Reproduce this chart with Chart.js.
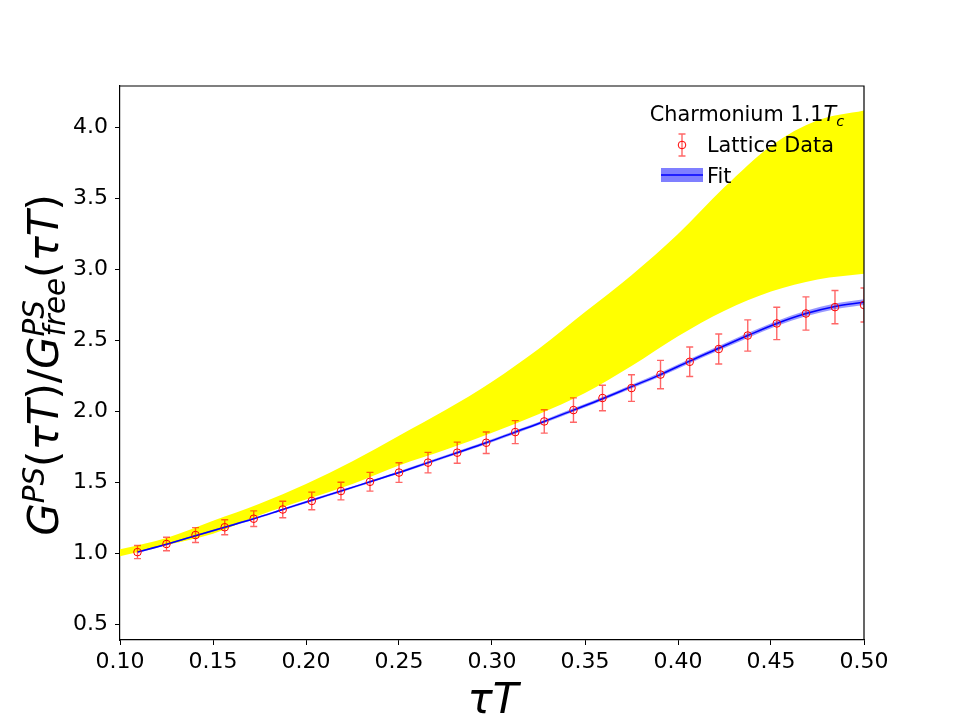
<!DOCTYPE html>
<html>
<head>
<meta charset="utf-8">
<script src="https://cdn.jsdelivr.net/npm/chart.js@4/dist/chart.umd.min.js"></script>
<style>
  html, body { margin: 0; padding: 0; background: #fff; }
  #wrap { width: 960px; height: 720px; }
</style>
</head>
<body>
<div id="wrap"><canvas id="corr" width="960" height="720"></canvas></div>
<script>
// tau*T values of the lattice points (N_tau = 64)
const tauT = [0.1094, 0.1250, 0.1406, 0.1563, 0.1719, 0.1875, 0.2031, 0.2188, 0.2344,
  0.2500, 0.2656, 0.2813, 0.2969, 0.3125, 0.3281, 0.3438, 0.3594, 0.3750, 0.3906,
  0.4063, 0.4219, 0.4375, 0.4531, 0.4688, 0.4844, 0.5000];
const latticeData = [1.01, 1.067, 1.13, 1.185, 1.245, 1.31, 1.37, 1.44, 1.505,
  1.57, 1.64, 1.71, 1.78, 1.855, 1.93, 2.01, 2.095, 2.165, 2.26,
  2.35, 2.44, 2.535, 2.62, 2.69, 2.735, 2.75];
const latticeErr = [0.046, 0.048, 0.052, 0.053, 0.055, 0.058, 0.062, 0.062, 0.066,
  0.069, 0.072, 0.074, 0.076, 0.081, 0.082, 0.086, 0.090, 0.094, 0.100,
  0.104, 0.106, 0.110, 0.114, 0.117, 0.117, 0.120];
const fitVal = [1.01, 1.065, 1.125, 1.185, 1.245, 1.31, 1.375, 1.44, 1.505,
  1.57, 1.64, 1.71, 1.78, 1.855, 1.93, 2.01, 2.09, 2.175, 2.26,
  2.355, 2.445, 2.535, 2.62, 2.69, 2.74, 2.77];
const fitErr = [0.006, 0.006, 0.006, 0.007, 0.007, 0.007, 0.008, 0.008, 0.008,
  0.009, 0.009, 0.010, 0.010, 0.011, 0.011, 0.012, 0.012, 0.013, 0.014,
  0.015, 0.016, 0.017, 0.018, 0.019, 0.020, 0.020];

// yellow band (upper / lower edge)
const bandTau = [0.100, 0.125, 0.150, 0.175, 0.200, 0.225, 0.250, 0.275, 0.300,
  0.325, 0.350, 0.375, 0.400, 0.425, 0.450, 0.475, 0.500];
const bandHigh = [1.03, 1.11, 1.23, 1.35, 1.49, 1.65, 1.83, 2.01, 2.21,
  2.44, 2.70, 2.96, 3.25, 3.58, 3.87, 4.05, 4.12];
const bandLow = [0.98, 1.06, 1.14, 1.27, 1.38, 1.49, 1.62, 1.73, 1.85,
  1.98, 2.13, 2.32, 2.53, 2.71, 2.845, 2.93, 2.97];

const xTicks = [0.10, 0.15, 0.20, 0.25, 0.30, 0.35, 0.40, 0.45, 0.50];
const yTicks = [0.5, 1.0, 1.5, 2.0, 2.5, 3.0, 3.5, 4.0];

const FONT = "'DejaVu Sans', sans-serif";
Chart.defaults.font.family = FONT;
Chart.defaults.font.size = 22;
Chart.defaults.color = "#000";

const pts = (xs, ys) => xs.map((x, i) => ({ x: x, y: ys[i] }));

// draws a row of mathtext-like pieces centred on x
function drawRuns(ctx, runs, x, y) {
  const setF = (r) => { ctx.font = (r.italic ? "italic " : "") + r.size + "px " + FONT; };
  const widthOf = (r) => { setF(r); return ctx.measureText(r.t).width; };
  let total = 0;
  runs.forEach(r => {
    if (r.stack) total += Math.max(...r.stack.map(widthOf));
    else total += widthOf(r);
  });
  let cx = x - total / 2;
  ctx.textAlign = "left";
  ctx.textBaseline = "alphabetic";
  runs.forEach(r => {
    if (r.stack) {
      let w = 0;
      r.stack.forEach(s => { setF(s); ctx.fillText(s.t, cx, y + (s.dy || 0)); w = Math.max(w, ctx.measureText(s.t).width); });
      cx += w;
    } else {
      setF(r);
      ctx.fillText(r.t, cx, y + (r.dy || 0));
      cx += ctx.measureText(r.t).width;
    }
  });
}

const decorations = {
  id: "decorations",
  afterDatasetsDraw(chart) {
    const { ctx, chartArea, scales } = chart;
    const xs = scales.x, ys = scales.y;
    // error bars
    ctx.save();
    ctx.beginPath();
    ctx.rect(chartArea.left, chartArea.top, chartArea.right - chartArea.left, chartArea.bottom - chartArea.top);
    ctx.clip();
    ctx.strokeStyle = "rgba(255,0,0,0.6)";
    ctx.lineWidth = 1.4;
    tauT.forEach((t, i) => {
      const px = xs.getPixelForValue(t);
      const y1 = ys.getPixelForValue(latticeData[i] - latticeErr[i]);
      const y2 = ys.getPixelForValue(latticeData[i] + latticeErr[i]);
      ctx.beginPath();
      ctx.moveTo(px, y1); ctx.lineTo(px, y2);
      ctx.moveTo(px - 3.5, y1); ctx.lineTo(px + 3.5, y1);
      ctx.moveTo(px - 3.5, y2); ctx.lineTo(px + 3.5, y2);
      ctx.stroke();
    });
    ctx.restore();
  },
  afterDraw(chart) {
    const { ctx, chartArea } = chart;
    ctx.save();
    // top / right spines
    ctx.strokeStyle = "#000";
    ctx.lineWidth = 1.2;
    ctx.beginPath();
    ctx.moveTo(chartArea.left, chartArea.top);
    ctx.lineTo(chartArea.right, chartArea.top);
    ctx.lineTo(chartArea.right, chartArea.bottom);
    ctx.stroke();

    ctx.fillStyle = "#000";
    // legend
    drawRuns(ctx, [
      { t: "Charmonium 1.1", size: 20.8 },
      { t: "T", size: 20.8, italic: true },
      { t: "c", size: 14.6, italic: true, dy: 5 }
    ], 747, 121);
    // errorbar icon
    ctx.strokeStyle = "rgba(255,0,0,0.6)";
    ctx.lineWidth = 1.4;
    ctx.beginPath();
    ctx.moveTo(682, 134); ctx.lineTo(682, 156);
    ctx.moveTo(678.5, 134); ctx.lineTo(685.5, 134);
    ctx.moveTo(678.5, 156); ctx.lineTo(685.5, 156);
    ctx.stroke();
    ctx.strokeStyle = "#ff0000";
    ctx.lineWidth = 1;
    ctx.beginPath();
    ctx.arc(682, 145, 3.8, 0, Math.PI * 2);
    ctx.stroke();
    ctx.font = "20.8px " + FONT;
    ctx.textAlign = "left";
    ctx.fillText("Lattice Data", 707, 152);
    // fit icon
    ctx.fillStyle = "rgba(0,0,255,0.5)";
    ctx.fillRect(661, 168, 42, 14);
    ctx.strokeStyle = "#0000ff";
    ctx.lineWidth = 1.5;
    ctx.beginPath();
    ctx.moveTo(661, 175); ctx.lineTo(703, 175);
    ctx.stroke();
    ctx.fillStyle = "#000";
    ctx.fillText("Fit", 707, 183);

    // x label
    drawRuns(ctx, [{ t: "\u03c4T", size: 42, italic: true }], 493, 713);

    // y label (rotated)
    ctx.translate(58, 365);
    ctx.rotate(-Math.PI / 2);
    drawRuns(ctx, [
      { t: "G", size: 42, italic: true },
      { t: "PS", size: 29.4, italic: true, dy: -14 },
      { t: "(", size: 42 },
      { t: "\u03c4T", size: 42, italic: true },
      { t: ")/", size: 42 },
      { t: "G", size: 42, italic: true },
      { stack: [
        { t: "PS", size: 29.4, italic: true, dy: -14 },
        { t: "free", size: 29.4, italic: true, dy: 7 }
      ] },
      { t: "(", size: 42 },
      { t: "\u03c4T", size: 42, italic: true },
      { t: ")", size: 42 }
    ], 0, 0);
    ctx.restore();
  }
};

new Chart(document.getElementById("corr"), {
  type: "line",
  data: {
    datasets: [
      {
        label: "band high",
        data: pts(bandTau, bandHigh),
        borderWidth: 0,
        borderColor: "rgba(0,0,0,0)",
        backgroundColor: "#ffff00",
        pointRadius: 0,
        fill: "+1",
        cubicInterpolationMode: "monotone",
        order: 10
      },
      {
        label: "band low",
        data: pts(bandTau, bandLow),
        borderWidth: 0,
        borderColor: "rgba(0,0,0,0)",
        pointRadius: 0,
        fill: false,
        cubicInterpolationMode: "monotone",
        order: 10
      },
      {
        label: "fit high",
        data: pts(tauT, fitVal.map((v, i) => v + fitErr[i])),
        borderWidth: 0,
        borderColor: "rgba(0,0,0,0)",
        backgroundColor: "rgba(0,0,255,0.4)",
        pointRadius: 0,
        fill: "+1",
        cubicInterpolationMode: "monotone",
        order: 8
      },
      {
        label: "fit low",
        data: pts(tauT, fitVal.map((v, i) => v - fitErr[i])),
        borderWidth: 0,
        borderColor: "rgba(0,0,0,0)",
        pointRadius: 0,
        fill: false,
        cubicInterpolationMode: "monotone",
        order: 8
      },
      {
        label: "Fit",
        data: pts(tauT, fitVal),
        borderColor: "#0000ff",
        borderWidth: 1.5,
        pointRadius: 0,
        fill: false,
        cubicInterpolationMode: "monotone",
        order: 6
      },
      {
        label: "Lattice Data",
        data: pts(tauT, latticeData),
        showLine: false,
        pointStyle: "circle",
        pointRadius: 3.8,
        pointBorderWidth: 1,
        pointBorderColor: "#ff0000",
        pointBackgroundColor: "rgba(0,0,0,0)",
        order: 1
      }
    ]
  },
  options: {
    responsive: false,
    animation: false,
    layout: { padding: { top: 86, right: 96, left: 0, bottom: 0 } },
    plugins: {
      legend: { display: false },
      tooltip: { enabled: false }
    },
    scales: {
      x: {
        type: "linear",
        min: 0.1,
        max: 0.5,
        afterBuildTicks: (s) => { s.ticks = xTicks.map(v => ({ value: v })); },
        afterFit: (s) => { s.height = 80; },
        grid: { drawOnChartArea: false, tickLength: 5, color: "#000", tickWidth: 1 },
        border: { display: true, color: "#000", width: 1.2 },
        ticks: { padding: 4, maxRotation: 0, callback: (v) => v.toFixed(2) }
      },
      y: {
        type: "linear",
        min: 0.391,
        max: 4.292,
        afterBuildTicks: (s) => { s.ticks = yTicks.map(v => ({ value: v })); },
        afterFit: (s) => { s.width = 120; },
        grid: { drawOnChartArea: false, tickLength: 5, color: "#000", tickWidth: 1 },
        border: { display: true, color: "#000", width: 1.2 },
        ticks: { padding: 7, callback: (v) => v.toFixed(1) }
      }
    }
  },
  plugins: [decorations]
});
</script>
</body>
</html>
